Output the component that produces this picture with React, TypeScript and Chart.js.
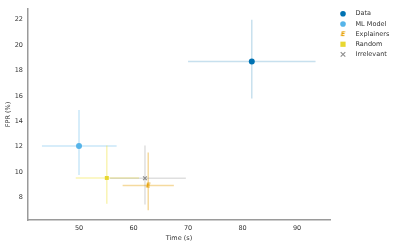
import React, { useEffect, useRef } from "react";
import { Chart, registerables } from "chart.js";

Chart.register(...registerables);

const seriesNames = ["Data", "ML Model", "Explainers", "Random", "Irrelevant"];
const timeMean = [81.7, 50.0, 62.7, 55.1, 62.1];
const timeLow = [70.0, 43.2, 58.0, 49.4, 55.7];
const timeHigh = [93.4, 56.9, 67.4, 61.0, 69.6];
const fprMean = [18.7, 12.05, 8.95, 9.54, 9.52];
const fprLow = [15.8, 9.77, 7.0, 7.5, 7.45];
const fprHigh = [22.0, 14.9, 11.55, 12.1, 12.1];
const xTickValues = [50, 60, 70, 80, 90];
const yTickValues = [8, 10, 12, 14, 16, 18, 20, 22];

const markerColors = ["#0072B2", "#56B4E9", "#E69F00", "#E8D730", "#8C8C8C"];
const errorColors = [
  "rgba(0,114,178,0.22)",
  "rgba(86,180,233,0.32)",
  "rgba(230,159,0,0.38)",
  "rgba(240,228,66,0.4)",
  "rgba(128,128,128,0.25)",
];
const markerStyles = ["circle", "circle", "E", "rect", "crossRot"];

const FONT = '"DejaVu Sans", sans-serif';

function makeE(color: string): HTMLCanvasElement {
  const c = document.createElement("canvas");
  c.width = 7;
  c.height = 8;
  const ctx = c.getContext("2d")!;
  ctx.fillStyle = color;
  ctx.font = `italic bold 6.5px ${FONT}`;
  ctx.textAlign = "center";
  ctx.textBaseline = "middle";
  ctx.fillText("E", 3.5, 4.3);
  return c;
}

function drawMarker(ctx: CanvasRenderingContext2D, style: string, x: number, y: number, color: string, eImg: HTMLCanvasElement) {
  ctx.save();
  ctx.fillStyle = color;
  ctx.strokeStyle = color;
  if (style === "circle") {
    ctx.beginPath();
    ctx.arc(x, y, 2.8, 0, Math.PI * 2);
    ctx.fill();
  } else if (style === "rect") {
    ctx.fillRect(x - 2.6, y - 2.6, 5.2, 5.2);
  } else if (style === "crossRot") {
    ctx.lineWidth = 1.1;
    ctx.beginPath();
    ctx.moveTo(x - 2.3, y - 2.3);
    ctx.lineTo(x + 2.3, y + 2.3);
    ctx.moveTo(x - 2.3, y + 2.3);
    ctx.lineTo(x + 2.3, y - 2.3);
    ctx.stroke();
  } else if (style === "E") {
    ctx.drawImage(eImg, x - 3.5, y - 4);
  }
  ctx.restore();
}

export default function App() {
  const ref = useRef<HTMLCanvasElement | null>(null);

  useEffect(() => {
    if (!ref.current) return;
    const eImg = makeE(markerColors[2]);

    const errorBars = {
      id: "errorBars",
      beforeDatasetsDraw(chart: any) {
        const { ctx, scales, chartArea } = chart;
        const xs = scales.x;
        const ys = scales.y;
        ctx.save();
        ctx.beginPath();
        ctx.rect(chartArea.left, chartArea.top, chartArea.right - chartArea.left, chartArea.bottom - chartArea.top);
        ctx.clip();
        ctx.lineWidth = 1.5;
        for (let i = 0; i < seriesNames.length; i++) {
          const px = xs.getPixelForValue(timeMean[i]);
          const py = ys.getPixelForValue(fprMean[i]);
          ctx.strokeStyle = errorColors[i];
          ctx.beginPath();
          ctx.moveTo(xs.getPixelForValue(timeLow[i]), py);
          ctx.lineTo(xs.getPixelForValue(timeHigh[i]), py);
          ctx.stroke();
          ctx.beginPath();
          ctx.moveTo(px, ys.getPixelForValue(fprLow[i]));
          ctx.lineTo(px, ys.getPixelForValue(fprHigh[i]));
          ctx.stroke();
        }
        ctx.restore();
      },
    };

    const legendPlugin = {
      id: "customLegend",
      afterDraw(chart: any) {
        const ctx = chart.ctx;
        ctx.save();
        ctx.font = `6.5px ${FONT}`;
        ctx.textBaseline = "middle";
        ctx.textAlign = "left";
        for (let i = 0; i < seriesNames.length; i++) {
          const y = 13.8 + i * 10.15;
          drawMarker(ctx, markerStyles[i], 343, y, markerColors[i], eImg);
          ctx.fillStyle = "#333333";
          ctx.fillText(seriesNames[i], 355.5, y);
        }
        ctx.restore();
      },
    };

    const datasets = seriesNames.map((name, i) => ({
      label: name,
      data: [{ x: timeMean[i], y: fprMean[i] }],
      pointStyle: markerStyles[i] === "E" ? eImg : markerStyles[i],
      pointRadius: markerStyles[i] === "rect" ? 2.8 : markerStyles[i] === "crossRot" ? 2.6 : 3,
      backgroundColor: markerColors[i],
      borderColor: markerColors[i],
      borderWidth: markerStyles[i] === "crossRot" ? 1.2 : 0,
    }));

    const chart = new Chart(ref.current, {
      type: "scatter",
      data: { datasets },
      plugins: [errorBars, legendPlugin],
      options: {
        animation: false,
        responsive: false,
        maintainAspectRatio: false,
        layout: { padding: { top: 4, right: 69, left: 0, bottom: 0 } },
        plugins: { legend: { display: false }, tooltip: { enabled: false } },
        scales: {
          x: {
            type: "linear",
            min: 40.64,
            max: 96.05,
            grid: { display: false, drawTicks: false },
            border: { display: true, color: "#9a9a9a", width: 1.5 },
            afterBuildTicks: (s: any) => {
              s.ticks = xTickValues.map((v) => ({ value: v }));
            },
            afterFit: (s: any) => {
              s.height = 26;
            },
            ticks: {
              padding: 4,
              color: "#333333",
              font: { family: FONT, size: 6.5 },
              maxRotation: 0,
              callback: (v: any) => String(v),
            },
            title: {
              display: true,
              text: "Time (s)",
              color: "#333333",
              font: { family: FONT, size: 6.5 },
              padding: { top: 4, bottom: 4 },
            },
          },
          y: {
            type: "linear",
            min: 6.23,
            max: 22.85,
            grid: { display: false, drawTicks: false },
            border: { display: true, color: "#9a9a9a", width: 1.5 },
            afterBuildTicks: (s: any) => {
              s.ticks = yTickValues.map((v) => ({ value: v }));
            },
            afterFit: (s: any) => {
              s.width = 28;
            },
            ticks: {
              padding: 5,
              color: "#333333",
              font: { family: FONT, size: 6.5 },
              callback: (v: any) => String(v),
            },
            title: {
              display: true,
              text: "FPR (%)",
              color: "#333333",
              font: { family: FONT, size: 6.5 },
              padding: { top: 4, bottom: 4 },
            },
          },
        },
      },
    } as any);

    return () => chart.destroy();
  }, []);

  return (
    <div style={{ position: "fixed", left: 0, top: 0, width: 399, height: 246, background: "#ffffff" }}>
      <canvas ref={ref} width={399} height={246} style={{ width: 399, height: 246, display: "block" }} />
    </div>
  );
}
